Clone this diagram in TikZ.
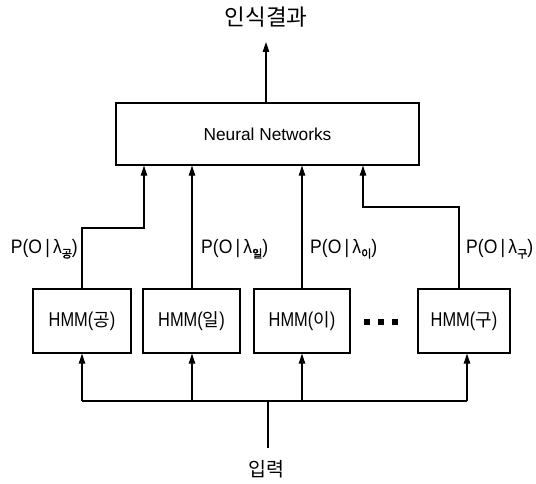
\documentclass[tikz,border=0pt]{standalone}
\usepackage{fontspec}
\setmainfont{Liberation Sans}
\newfontfamily\narrowfont{Liberation Sans}[FakeStretch=0.9]
\newfontfamily\tightfont{Liberation Sans}[FakeStretch=0.82]
\newfontfamily\kr{Noto Sans CJK KR}
\newfontfamily\krbold{Noto Sans CJK KR}[FakeBold=2.5]
\usetikzlibrary{arrows.meta}
\tikzset{
  box/.style={draw, line width=1.3pt, inner sep=0pt},
  link/.style={line width=1.1pt},
  arr/.style={link, -{Triangle[length=10pt,width=6.5pt]}},
  prob/.style={inner sep=0pt, font=\narrowfont\fontsize{19.5}{19}\selectfont},
  hmmtxt/.style={font=\tightfont\fontsize{20}{20}\selectfont},
}
\newcommand{\ksub}[1]{\raisebox{-4pt}{\fontsize{11}{10}\selectfont\krbold #1}}
\newcommand{\pol}[1]{P(O\,|\,λ\ksub{#1})}
\begin{document}
\begin{tikzpicture}[x=1pt,y=-1pt]
\useasboundingbox (0,0) rectangle (536,484);

% output and network
\node[inner sep=0pt, font=\kr\fontsize{22.5}{23}\selectfont] (out) at (266,17) {인식결과};
\node[box, minimum width=303pt, minimum height=62pt, font=\fontsize{17.3}{18}\selectfont] (nn) at (267.5,134) {Neural Networks};
\draw[arr] (nn.north -| out) -- (out.south |- 0,42) coordinate (outtip);

% word models
\node[box, minimum width=98pt, minimum height=64pt, hmmtxt] (h1) at (82,321) {HMM({\kr\fontsize{18}{18}\selectfont 공})};
\node[box, minimum width=97pt, minimum height=64pt, hmmtxt] (h2) at (191.5,321) {HMM({\kr\fontsize{18}{18}\selectfont 일})};
\node[box, minimum width=96pt, minimum height=64pt, hmmtxt] (h3) at (302,321) {HMM({\kr\fontsize{18}{18}\selectfont 이})};
\node[box, minimum width=92pt, minimum height=64pt, hmmtxt] (h4) at (464,321) {HMM({\kr\fontsize{18}{18}\selectfont 구})};

% ellipsis
\foreach \i/\xx in {d1/367, d2/381, d3/395}
  \fill (\xx-2.6,322-2.6) rectangle (\xx+2.6,322+2.6);

% likelihoods into the network
\coordinate (j1) at (144,228);
\coordinate (j4) at (363,207);
\draw[arr] (h1.north) |- (j1) -- (j1 |- nn.south);
\draw[arr] ([xshift=0.5pt]h2.north) -- ([xshift=0.5pt]h2.north |- nn.south);
\draw[arr] (h3.north) -- (h3.north |- nn.south);
\draw[arr] ([xshift=-5pt]h4.north) |- (j4) -- (j4 |- nn.south);

\node[prob, anchor=east] (p1) at (78,249) {\pol{공}};
\node[prob, anchor=west] (p2) at (201,249) {\pol{일}};
\node[prob, anchor=west] (p3) at (310,249) {\pol{이}};
\node[prob, anchor=west] (p4) at (466,249) {\pol{구}};

% input distribution
\coordinate (bus) at (268,401);
\node[inner sep=0pt, font=\kr\fontsize{19.5}{20}\selectfont] (inp) at (266,469) {입력};
\coordinate (stem) at (268,448);
\draw[link] (stem) -- (bus);
\draw[link] (h1.south |- bus) -- ([xshift=3pt]h4.south |- bus);
\draw[arr] (h1.south |- bus) -- (h1.south);
\draw[arr] ([xshift=0.5pt]h2.south |- bus) -- ([xshift=0.5pt]h2.south);
\draw[arr] (h3.south |- bus) -- (h3.south);
\draw[arr] ([xshift=3pt]h4.south |- bus) -- ([xshift=3pt]h4.south);
\end{tikzpicture}
\end{document}
